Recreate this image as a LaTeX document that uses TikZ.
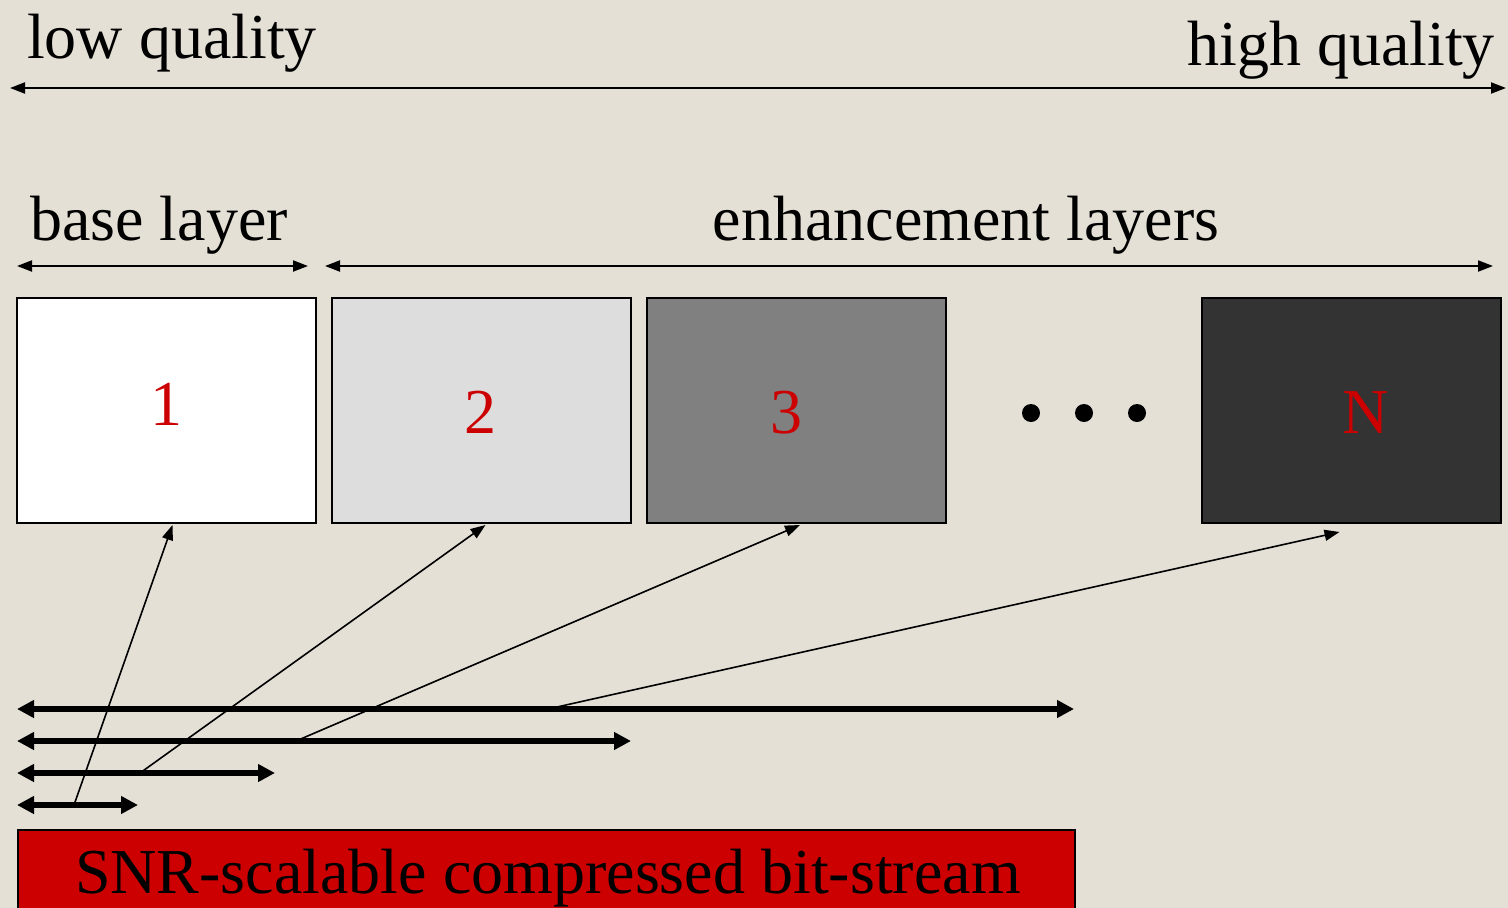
\documentclass[tikz,border=0pt]{standalone}
\usepackage{fontspec}
\setmainfont{Liberation Serif}
\usetikzlibrary{arrows.meta,calc}
\definecolor{paper}{RGB}{228,224,214}
\definecolor{lyrred}{RGB}{204,0,0}
\definecolor{lyr2}{RGB}{221,221,221}
\definecolor{lyr3}{RGB}{128,128,128}
\definecolor{lyrN}{RGB}{51,51,51}
\tikzset{
  x=1pt, y=-1pt,
  scale span/.style={line width=2pt, {Triangle[length=15pt,width=11pt]}-{Triangle[length=15pt,width=11pt]}},
  stream/.style={line width=5.5pt, {Triangle[length=17pt,width=17pt]}-{Triangle[length=17pt,width=17pt]}},
  pointer/.style={line width=1.6pt, -{Triangle[length=15pt,width=11pt]}},
  layerbox/.style={draw=black, line width=2pt, minimum width=299pt, minimum height=225pt, inner sep=0pt},
  caption/.style={inner sep=0pt, font=\fontsize{64}{64}\selectfont, text=black},
  layerlbl/.style={caption, anchor=base, text=lyrred},
  dot/.style={circle, fill=black, minimum size=18pt, inner sep=0pt}
}
\begin{document}
\begin{tikzpicture}
\useasboundingbox (0,0) rectangle (1508,908);
\clip (0,0) rectangle (1508,908);
\fill[paper] (0,0) rectangle (1508,908);

% quality range
\node[caption, anchor=base west] (low) at (27,58) {low quality};
\node[caption, anchor=base east] (high) at (1495,65) {high quality};
\coordinate (qL) at (10,88);
\coordinate (qR) at (1506,88);
\draw[scale span] (qL) -- (qR);

% layer ranges
\node[caption, anchor=base west] (baselbl) at (30,240) {base layer};
\node[caption, anchor=base] (enhlbl) at (966,240) {enhancement layers};
\coordinate (bL) at (17,266);
\coordinate (bR) at (308,266);
\coordinate (eL) at (325,266);
\coordinate (eR) at (1493,266);
\draw[scale span] (bL) -- (bR);
\draw[scale span] (eL) -- (eR);

% layers
\node[layerbox, fill=white] (L1) at (166.5,410.5) {};
\node[layerbox, fill=lyr2] (L2) at (481.5,410.5) {};
\node[layerbox, fill=lyr3] (L3) at (796,410.5) {};
\node[layerbox, fill=lyrN] (LN) at (1351.5,410.5) {};
\node[layerlbl] (n1) at (166,425) {1};
\node[layerlbl] (n2) at (480,433) {2};
\node[layerlbl] (n3) at (786,433) {3};
\node[layerlbl] (nN) at (1366,433) {N};
\node[dot] (d1) at (1031,413) {};
\node[dot] (d2) at (1084,413) {};
\node[dot] (d3) at (1137,413) {};

% bit-stream
\node[draw=black, line width=2pt, fill=lyrred, anchor=north west, minimum width=1057pt,
  minimum height=100pt, inner sep=0pt] (bits) at (17,829) {};
\node[caption, anchor=base west] (bitslbl) at (75,893)
  {SNR-scalable compressed bit-stream};

% stream prefixes
\coordinate (s4L) at (17,709);  \coordinate (s4R) at (1074,709);
\coordinate (s3L) at (17,741);  \coordinate (s3R) at (631,741);
\coordinate (s2L) at (17,773);  \coordinate (s2R) at (275,773);
\coordinate (s1L) at (17,805);  \coordinate (s1R) at (138,805);
\draw[stream] (s4L) -- (s4R);
\draw[stream] (s3L) -- (s3R);
\draw[stream] (s2L) -- (s2R);
\draw[stream] (s1L) -- (s1R);

% decoded layers
\coordinate (p1) at (74,805);
\coordinate (p2) at (140,773);
\coordinate (p3) at (296,741);
\coordinate (p4) at (548,709);
\draw[pointer] (p1) -- ($(L1.south)+(6,1)$);
\draw[pointer] (p2) -- ($(L2.south)+(4,1)$);
\draw[pointer] (p3) -- ($(L3.south)+(4,1)$);
\draw[pointer] (p4) -- ($(LN.south)+(-12,8)$);
\end{tikzpicture}
\end{document}
